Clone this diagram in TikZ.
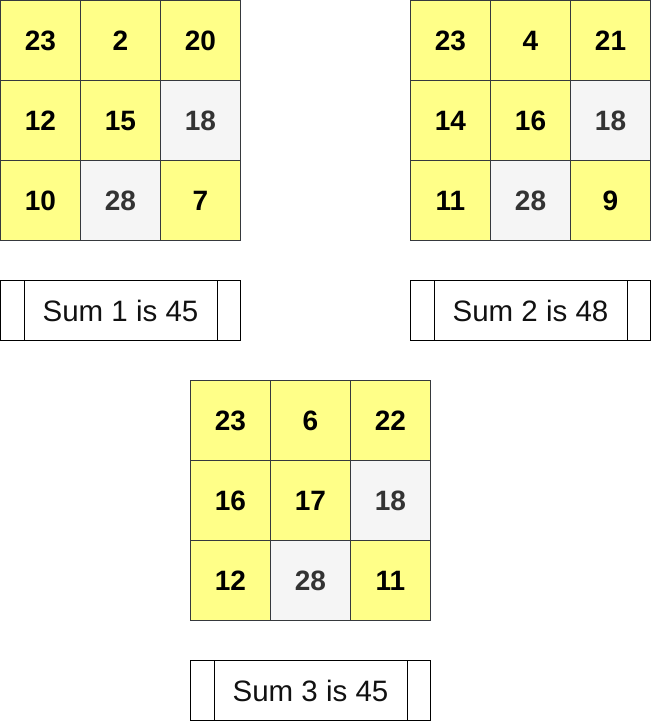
\documentclass[tikz,border=0pt]{standalone}
\usepackage{fontspec}
\setmainfont{Liberation Sans}
\begin{document}
\begin{tikzpicture}[x=1pt,y=-1pt,
  cell/.style={draw=cellborder,line width=1pt,minimum width=80pt,minimum height=80pt,inner sep=0pt,anchor=north west,font=\fontsize{28}{32}\selectfont\bfseries},
  yc/.style={cell,fill=cellyellow,text=black},
  gc/.style={cell,fill=cellgrey,text=greytext},
  sumbox/.style={draw=black,line width=1pt,minimum width=240pt,minimum height=60pt,inner sep=0pt,anchor=north west,font=\fontsize{29.5}{33}\selectfont,text=textdark}]
\definecolor{cellyellow}{HTML}{FFFF88}
\definecolor{cellgrey}{HTML}{F5F5F5}
\definecolor{cellborder}{HTML}{36393D}
\definecolor{greytext}{HTML}{333333}
\definecolor{textdark}{HTML}{111111}
\useasboundingbox (0,0) rectangle (651,721);
% grid 1
\node[yc] (a11) at (0,0) {23};
\node[yc] (a12) at (80,0) {2};
\node[yc] (a13) at (160,0) {20};
\node[yc] (a21) at (0,80) {12};
\node[yc] (a22) at (80,80) {15};
\node[gc] (a23) at (160,80) {18};
\node[yc] (a31) at (0,160) {10};
\node[gc] (a32) at (80,160) {28};
\node[yc] (a33) at (160,160) {7};
% grid 2
\node[yc] (b11) at (410,0) {23};
\node[yc] (b12) at (490,0) {4};
\node[yc] (b13) at (570,0) {21};
\node[yc] (b21) at (410,80) {14};
\node[yc] (b22) at (490,80) {16};
\node[gc] (b23) at (570,80) {18};
\node[yc] (b31) at (410,160) {11};
\node[gc] (b32) at (490,160) {28};
\node[yc] (b33) at (570,160) {9};
% grid 3
\node[yc] (c11) at (190,380) {23};
\node[yc] (c12) at (270,380) {6};
\node[yc] (c13) at (350,380) {22};
\node[yc] (c21) at (190,460) {16};
\node[yc] (c22) at (270,460) {17};
\node[gc] (c23) at (350,460) {18};
\node[yc] (c31) at (190,540) {12};
\node[gc] (c32) at (270,540) {28};
\node[yc] (c33) at (350,540) {11};
% sum boxes
\node[sumbox] (s1) at (0,280) {Sum 1 is 45};
\node[sumbox] (s2) at (410,280) {Sum 2 is 48};
\node[sumbox] (s3) at (190,660) {Sum 3 is 45};
\foreach \s in {s1,s2,s3}{
  \draw[line width=1pt] ([xshift=24pt]\s.north west) -- ([xshift=24pt]\s.south west);
  \draw[line width=1pt] ([xshift=-24pt]\s.north east) -- ([xshift=-24pt]\s.south east);
}
\end{tikzpicture}
\end{document}
